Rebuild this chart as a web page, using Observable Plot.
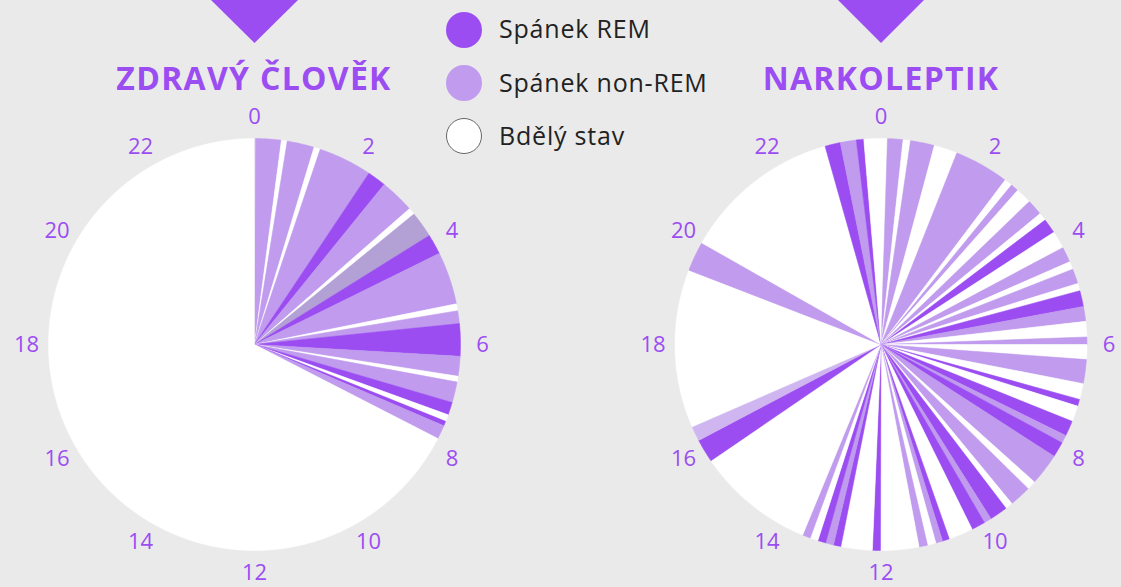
<!DOCTYPE html>
<html>
<head>
<meta charset="utf-8">
<script src="https://cdn.jsdelivr.net/npm/d3@7"></script>
<script src="https://cdn.jsdelivr.net/npm/@observablehq/plot@0.6"></script>
<style>
  html, body { margin: 0; padding: 0; background: #EAEAEA; }
  #root { position: relative; width: 1121px; height: 587px; overflow: hidden; font-family: "Open Sans", sans-serif; }
  #chart { position: absolute; left: 0; top: 0; }
  .title { position: absolute; width: 420px; text-align: center; font-size: 32px; line-height: 32px; font-weight: 700; color: #9B4DF2; letter-spacing: 1.3px; }
  .lg-dot { position: absolute; width: 36px; height: 36px; border-radius: 50%; box-sizing: border-box; }
  .lg-txt { position: absolute; font-size: 25px; line-height: 25px; color: #222; letter-spacing: 0.8px; white-space: nowrap; }
  #deco { position: absolute; left: 0; top: 0; }
</style>
</head>
<body>
<div id="root">
  <svg id="deco" width="1121" height="587">
    <polygon points="211,0 298,0 254.5,43" fill="#9B4DF2"></polygon>
    <polygon points="838,0 924,0 881,43" fill="#9B4DF2"></polygon>
  </svg>
  <div id="chart"></div>
  <div class="title" style="left:44px; top:62px;">ZDRAVÝ ČLOVĚK</div>
  <div class="title" style="left:671px; top:62px;">NARKOLEPTIK</div>
  <div id="legend"></div>
</div>
<script>
// ---- data ----
const stateKeys = ["REM", "NREM", "WAKE", "NREM_GREY", "NREM_LIGHT"];
const stateColors = ["#9B4DF2", "#C09BEE", "#FFFFFF", "#B3A1D5", "#D0B6F1"];
const legendKeys = ["REM", "NREM", "WAKE"];
const legendLabels = ["Spánek REM", "Spánek non-REM", "Bdělý stav"];
const pieTitles = ["ZDRAVÝ ČLOVĚK", "NARKOLEPTIK"];
const hourTicks = [0, 2, 4, 6, 8, 10, 12, 14, 16, 18, 20, 22];

// healthy person: segment start hours and states (each ends at the next start, last at 24)
const healthyStart = [0, 0.5, 0.61, 1.12, 1.24, 2.25, 2.6, 3.25, 3.38, 3.87, 4.25, 5.24, 5.37, 5.61, 6.22, 6.59, 6.7, 7.09, 7.33, 7.46, 7.55, 7.81];
const healthyState = ["NREM", "WAKE", "NREM", "WAKE", "NREM", "REM", "NREM", "WAKE", "NREM_GREY", "REM", "NREM", "WAKE", "NREM", "REM", "NREM", "WAKE", "NREM", "REM", "WAKE", "REM", "NREM", "WAKE"];

// narcoleptic
const narcoStart = [0, 0.12, 0.41, 0.55, 1.0, 1.44, 2.47, 2.62, 2.77, 3.07, 3.37, 3.52, 3.8, 4.13, 4.42, 4.57, 4.85, 4.99, 5.29, 5.57, 5.86, 6.0, 6.28, 6.73, 7.03, 7.16, 7.46, 7.75, 7.9, 8.19, 8.79, 8.96, 9.37, 9.51, 9.85, 9.99, 10.25, 10.71, 10.84, 10.97, 11.13, 11.29, 12.01, 12.16, 12.75, 12.89, 13.04, 13.19, 13.34, 13.49, 15.71, 16.15, 16.43, 19.41, 19.97, 22.95, 23.24, 23.54, 23.68];
const narcoState = ["WAKE", "NREM", "WAKE", "NREM", "WAKE", "NREM", "WAKE", "NREM", "WAKE", "NREM", "WAKE", "REM", "WAKE", "NREM", "WAKE", "NREM", "WAKE", "REM", "NREM", "WAKE", "NREM", "WAKE", "NREM", "WAKE", "REM", "WAKE", "REM", "NREM", "REM", "NREM", "WAKE", "NREM", "WAKE", "REM", "NREM", "REM", "WAKE", "REM", "NREM", "WAKE", "NREM", "WAKE", "REM", "WAKE", "REM", "NREM", "REM", "WAKE", "NREM", "WAKE", "REM", "NREM_LIGHT", "WAKE", "NREM", "WAKE", "REM", "NREM", "REM", "WAKE"];

// ---- layout ----
const W = 1121, H = 587;
const R = 206;               // pie radius in px
const CX = [254, 880.5];     // pie centres in px
const CY = 344;
const LABEL_R = 228 / R;
const offsets = CX.map(c => (c - CX[0]) / R);

function wedges(starts, states, pie) {
  const out = [];
  starts.forEach((s, i) => {
    const e = i + 1 < starts.length ? starts[i + 1] : 24;
    const a0 = s / 24 * 2 * Math.PI, a1 = e / 24 * 2 * Math.PI;
    const n = Math.max(2, Math.ceil((a1 - a0) / (Math.PI / 540)));
    const id = pie + "-" + i;
    out.push({id, state: states[i], x: offsets[pie], y: 0});
    for (let k = 0; k <= n; k++) {
      const a = a0 + (a1 - a0) * k / n;
      out.push({id, state: states[i], x: offsets[pie] + Math.sin(a), y: Math.cos(a)});
    }
  });
  return out;
}

const slices = [...wedges(healthyStart, healthyState, 0), ...wedges(narcoStart, narcoState, 1)];
const labels = [0, 1].flatMap(pie => hourTicks.map(h => ({
  text: String(h),
  x: offsets[pie] + LABEL_R * Math.sin(h / 24 * 2 * Math.PI),
  y: LABEL_R * Math.cos(h / 24 * 2 * Math.PI)
})));

const chart = Plot.plot({
  width: W, height: H, margin: 0,
  x: {domain: [-CX[0] / R, (W - CX[0]) / R], range: [0, W], axis: null},
  y: {domain: [-(H - CY) / R, CY / R], range: [H, 0], axis: null},
  color: {domain: stateKeys, range: stateColors},
  style: {background: "transparent", overflow: "visible"},
  marks: [
    Plot.line(slices, {x: "x", y: "y", z: "id", fill: "state", stroke: "state", strokeWidth: 0.5, curve: "linear-closed"}),
    Plot.text(labels, {x: "x", y: "y", text: "text", fill: "#9B4DF2", fontSize: 22, fontFamily: "Open Sans", textAnchor: "middle", lineAnchor: "middle"})
  ]
});
document.getElementById("chart").appendChild(chart);

// legend
const legend = document.getElementById("legend");
const legendCy = [29.5, 83, 136];
legendKeys.forEach((k, i) => {
  const col = stateColors[stateKeys.indexOf(k)];
  const dot = document.createElement("div");
  dot.className = "lg-dot";
  dot.style.left = "446px";
  dot.style.top = (legendCy[i] - 18) + "px";
  dot.style.background = col;
  if (k === "WAKE") dot.style.border = "1px solid #666";
  legend.appendChild(dot);
  const t = document.createElement("div");
  t.className = "lg-txt";
  t.style.left = "499px";
  t.style.top = (legendCy[i] - 13.5) + "px";
  t.textContent = legendLabels[i];
  legend.appendChild(t);
});
</script>
</body>
</html>
